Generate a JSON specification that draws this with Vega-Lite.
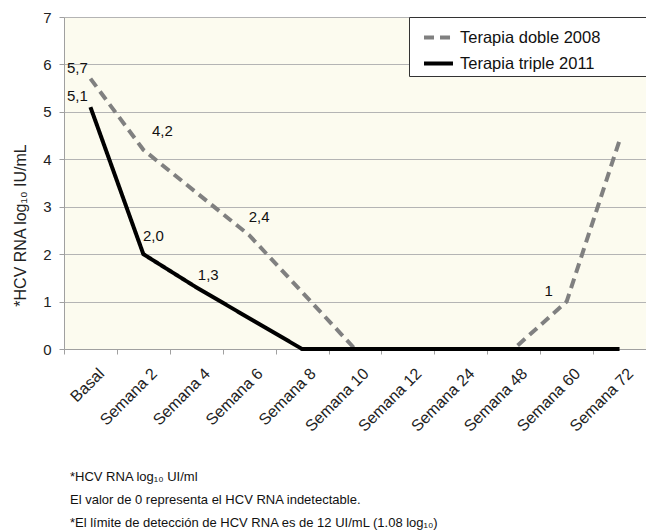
{
  "$schema": "https://vega.github.io/schema/vega-lite/v6.json",
  "autosize": "none",
  "width": 582,
  "height": 332,
  "padding": {"left": 64, "top": 17, "right": 0, "bottom": 181},
  "background": "#ffffff",
  "config": {
    "font": "Liberation Sans",
    "view": {"stroke": null, "fill": "#fcfbef"}
  },
  "title": {
    "text": ["*HCV RNA log₁₀ UI/ml", "El  valor de 0 representa el HCV RNA indetectable.", "*El límite de detección de HCV RNA es de 12 UI/mL (1.08 log₁₀)"],
    "orient": "bottom",
    "anchor": "start",
    "frame": "group",
    "dx": 6,
    "offset": 37,
    "fontSize": 13,
    "fontWeight": "normal",
    "color": "#111111",
    "lineHeight": 23
  },
  "data": {
    "values": [
      {"serie": "Terapia doble 2008", "semana": "Basal", "valor": 5.7, "etiqueta": "5,7"},
      {"serie": "Terapia doble 2008", "semana": "Semana 2", "valor": 4.2, "etiqueta": "4,2"},
      {"serie": "Terapia doble 2008", "semana": "Semana 4", "valor": 3.3},
      {"serie": "Terapia doble 2008", "semana": "Semana 6", "valor": 2.4, "etiqueta": "2,4"},
      {"serie": "Terapia doble 2008", "semana": "Semana 8", "valor": 1.2},
      {"serie": "Terapia doble 2008", "semana": "Semana 10", "valor": 0},
      {"serie": "Terapia doble 2008", "semana": "Semana 12", "valor": 0},
      {"serie": "Terapia doble 2008", "semana": "Semana 24", "valor": 0},
      {"serie": "Terapia doble 2008", "semana": "Semana 48", "valor": 0},
      {"serie": "Terapia doble 2008", "semana": "Semana 60", "valor": 1, "etiqueta": "1"},
      {"serie": "Terapia doble 2008", "semana": "Semana 72", "valor": 4.4},
      {"serie": "Terapia triple 2011", "semana": "Basal", "valor": 5.1, "etiqueta": "5,1"},
      {"serie": "Terapia triple 2011", "semana": "Semana 2", "valor": 2.0, "etiqueta": "2,0"},
      {"serie": "Terapia triple 2011", "semana": "Semana 4", "valor": 1.3, "etiqueta": "1,3"},
      {"serie": "Terapia triple 2011", "semana": "Semana 6", "valor": 0.65},
      {"serie": "Terapia triple 2011", "semana": "Semana 8", "valor": 0},
      {"serie": "Terapia triple 2011", "semana": "Semana 10", "valor": 0},
      {"serie": "Terapia triple 2011", "semana": "Semana 12", "valor": 0},
      {"serie": "Terapia triple 2011", "semana": "Semana 24", "valor": 0},
      {"serie": "Terapia triple 2011", "semana": "Semana 48", "valor": 0},
      {"serie": "Terapia triple 2011", "semana": "Semana 60", "valor": 0},
      {"serie": "Terapia triple 2011", "semana": "Semana 72", "valor": 0}
    ]
  },
  "encoding": {
    "x": {
      "field": "semana",
      "type": "ordinal",
      "sort": ["Basal", "Semana 2", "Semana 4", "Semana 6", "Semana 8", "Semana 10", "Semana 12", "Semana 24", "Semana 48", "Semana 60", "Semana 72"],
      "scale": {"type": "band", "paddingInner": 0, "paddingOuter": 0},
      "bandPosition": 0.5,
      "axis": {
        "title": null,
        "tickBand": "extent",
        "labelAngle": -45,
        "labelFontSize": 16,
        "labelColor": "#222222",
        "labelPadding": 11,
        "labelOffset": 5,
        "domainColor": "#a0a0a0",
        "tickColor": "#a0a0a0",
        "tickSize": 5,
        "grid": false
      }
    },
    "y": {
      "field": "valor",
      "type": "quantitative",
      "scale": {"domain": [0, 7], "nice": false},
      "axis": {
        "title": "*HCV RNA log₁₀ IU/mL",
        "titleFontSize": 16,
        "titleFontWeight": "normal",
        "titleColor": "#222222",
        "titlePadding": 14,
        "titleY": 208,
        "values": [0, 1, 2, 3, 4, 5, 6, 7],
        "labelFontSize": 15,
        "labelColor": "#222222",
        "labelPadding": 8,
        "domainColor": "#a0a0a0",
        "tickColor": "#a0a0a0",
        "tickSize": 5,
        "gridColor": "#b4b4b4",
        "gridWidth": 1
      }
    }
  },
  "layer": [
    {
      "mark": {"type": "line", "strokeWidth": 4},
      "encoding": {
        "color": {
          "field": "serie",
          "type": "nominal",
          "scale": {"range": ["#808080", "#000000"]},
          "legend": {
            "title": null,
            "orient": "top-right",
            "offset": 0,
            "fillColor": "#ffffff",
            "strokeColor": "#333333",
            "padding": 4,
            "symbolOffset": 9,
            "symbolType": "stroke",
            "symbolSize": 840,
            "symbolStrokeWidth": 4,
            "labelFontSize": 16.5,
            "labelColor": "#111111",
            "labelLimit": 400,
            "rowPadding": 1,
            "labelOffset": 5,
            "labelExpr": "datum.label + '\u00a0\u00a0\u00a0\u00a0\u00a0\u00a0\u00a0\u00a0\u00a0\u200b'"
          }
        },
        "strokeDash": {
          "field": "serie",
          "type": "nominal",
          "scale": {"range": [[10, 6], [1, 0]]},
          "legend": null
        }
      }
    },
    {
      "transform": [{"filter": "datum.etiqueta == '5,7' || datum.etiqueta == '5,1'"}],
      "mark": {"type": "text", "fontSize": 15, "color": "#111111", "dx": -13, "dy": -11},
      "encoding": {"text": {"field": "etiqueta"}}
    },
    {
      "transform": [{"filter": "datum.etiqueta == '2,4' || datum.etiqueta == '2,0'"}],
      "mark": {"type": "text", "fontSize": 15, "color": "#111111", "dx": 10, "dy": -18},
      "encoding": {"text": {"field": "etiqueta"}}
    },
    {
      "transform": [{"filter": "datum.etiqueta == '4,2'"}],
      "mark": {"type": "text", "fontSize": 15, "color": "#111111", "dx": 19, "dy": -19},
      "encoding": {"text": {"field": "etiqueta"}}
    },
    {
      "transform": [{"filter": "datum.etiqueta == '1,3'"}],
      "mark": {"type": "text", "fontSize": 15, "color": "#111111", "dx": 12, "dy": -12},
      "encoding": {"text": {"field": "etiqueta"}}
    },
    {
      "transform": [{"filter": "datum.etiqueta == '1'"}],
      "mark": {"type": "text", "fontSize": 15, "color": "#111111", "dx": -18, "dy": -11},
      "encoding": {"text": {"field": "etiqueta"}}
    }
  ]
}
